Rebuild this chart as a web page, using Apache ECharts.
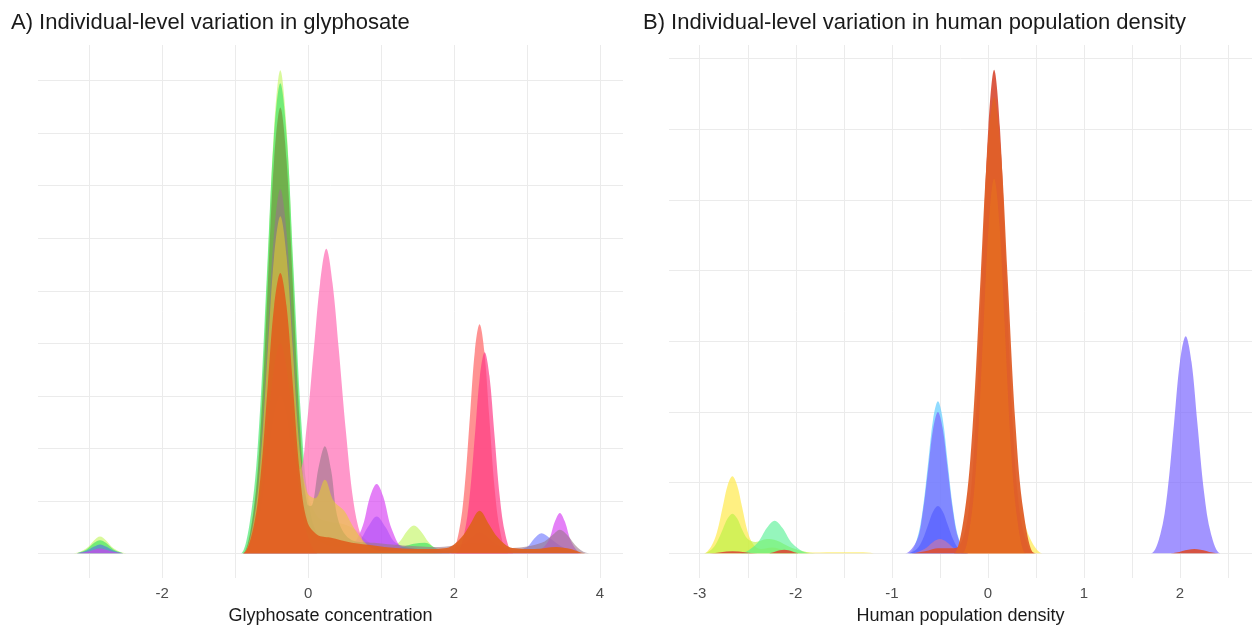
<!DOCTYPE html>
<html>
<head>
<meta charset="utf-8">
<script src="https://cdn.jsdelivr.net/npm/echarts@6/dist/echarts.min.js"></script>
<style>
    html, body { margin: 0; padding: 0; background: #fff; }
    #chart { width: 1254px; height: 630px; }
</style>
</head>
<body>
<div id="chart"></div>
<script>
    // ---- panel A: glyphosate, one density per individual ([x, density]) ----
    var glyTicks = [-2, 0, 2, 4];
    var glyGridX = [-3, -2, -1, 0, 1, 2, 3, 4];
    var glyGridY = [0, 1, 2, 3, 4, 5, 6, 7, 8, 9];

    var glyLime = [[-3.26,0],[-3.21,0],[-3.04,.09],[-2.93,.25],[-2.85,.32],[-2.77,.25],[-2.66,.09],[-2.49,0],[-2.44,0],[-0.95,0],[-0.9,0],[-0.75,.82],[-0.65,2.56],[-0.55,5.58],[-0.465,8.11],[-0.38,9.2],[-0.295,8.11],[-0.21,5.58],[-0.11,2.56],[-0.01,1.2],[0.13,.7],[0.3,.6],[0.5,.55],[0.65,.45],[0.8,.25],[0.95,.12],[1.1,.1],[1.24,.2],[1.36,.43],[1.45,.53],[1.54,.43],[1.66,.2],[1.84,0],[1.9,0]];
    var glyGreen = [[-3.26,0],[-3.21,0],[-3.04,.07],[-2.93,.2],[-2.85,.25],[-2.77,.2],[-2.66,.07],[-2.49,0],[-2.44,0],[-0.97,0],[-0.92,0],[-0.776,.8],[-0.668,2.49],[-0.56,5.43],[-0.47,7.89],[-0.38,8.95],[-0.29,7.89],[-0.2,5.43],[-0.092,2.49],[0.016,.9],[0.16,.3],[0.4,.2],[0.8,.12],[1.2,.1],[1.45,.18],[1.6,.2],[1.75,.1],[1.95,0],[2.0,0]];
    var glyOlive = [[-0.94,0],[-0.89,0],[-0.75,.76],[-0.65,2.36],[-0.55,5.15],[-0.465,7.49],[-0.38,8.49],[-0.295,7.49],[-0.21,5.15],[-0.11,2.36],[-0.01,.76],[0.13,0],[0.18,0]];
    var glyBlue = [[-3.26,0],[-3.21,0],[-3.04,.05],[-2.93,.13],[-2.85,.17],[-2.77,.13],[-2.66,.05],[-2.49,0],[-2.44,0],[-0.94,0],[-0.89,0],[-0.75,.36],[-0.65,1.11],[-0.55,2.43],[-0.465,3.53],[-0.38,4],[-0.295,3.53],[-0.21,2.43],[-0.11,1.11],[-0.01,.5],[0.2,.3],[0.5,.2],[0.7,.25],[0.82,.5],[0.94,.7],[1.06,.5],[1.2,.2],[1.5,.08],[1.9,.06],[2.15,.2],[2.35,.4],[2.55,.2],[2.8,.06],[3.0,.12],[3.1,.28],[3.2,.38],[3.3,.3],[3.45,.15],[3.6,.05],[3.75,0],[3.8,0]];
    var glyMagenta = [[-3.26,0],[-3.21,0],[-3.04,.025],[-2.93,.07],[-2.85,.09],[-2.77,.07],[-2.66,.025],[-2.49,0],[-2.44,0],[-0.94,0],[-0.89,0],[-0.75,.3],[-0.65,.97],[-0.55,2.1],[-0.465,3.1],[-0.38,3.5],[-0.295,3.1],[-0.21,2.1],[-0.11,.97],[-0.01,.4],[0.2,.2],[0.4,.12],[0.55,.12],[0.73,.45],[0.85,1.08],[0.94,1.32],[1.03,1.08],[1.15,.45],[1.33,.06],[1.6,.03],[3.0,.03],[3.15,.05],[3.29,.23],[3.38,.6],[3.45,.77],[3.52,.6],[3.61,.21],[3.75,0],[3.8,0]];
    var glyPink = [[-0.94,0],[-0.89,0],[-0.75,.27],[-0.65,.83],[-0.55,1.82],[-0.465,2.65],[-0.38,3],[-0.295,2.65],[-0.21,1.82],[-0.11,1.6],[-0.02,2.4],[0.08,3.9],[0.165,5.15],[0.25,5.8],[0.335,5.15],[0.42,3.9],[0.52,2.3],[0.62,1.0],[0.72,.35],[0.85,0],[0.9,0]];
    var glyMauve = [[-0.94,0],[-0.89,0],[-0.75,.62],[-0.65,1.93],[-0.55,4.21],[-0.465,6.12],[-0.38,6.94],[-0.295,6.12],[-0.21,4.21],[-0.11,1.97],[-0.01,.93],[0.04,.9],[0.146,1.65],[0.23,2.04],[0.314,1.6],[0.42,.6],[0.6,.25],[0.9,.2],[1.3,.15],[1.8,.12],[2.3,.2],[2.8,.1],[3.2,.2],[3.35,.35],[3.45,.45],[3.55,.35],[3.7,.1],[3.85,0],[3.9,0]];
    var glyYellow = [[-0.94,0],[-0.89,0],[-0.75,.57],[-0.65,1.78],[-0.55,3.9],[-0.465,5.66],[-0.38,6.42],[-0.295,5.66],[-0.21,3.9],[-0.11,1.9],[-0.01,1.15],[0.1,1.05],[0.23,1.4],[0.35,1.0],[0.5,.8],[0.6,.55],[0.72,.3],[0.85,.12],[1.0,.05],[1.4,.05],[1.8,0],[1.85,0]];
    var glySalmon = [[-0.94,0],[-0.89,0],[-0.75,.36],[-0.65,1.11],[-0.55,2.43],[-0.465,3.53],[-0.38,4],[-0.295,3.53],[-0.21,2.43],[-0.11,1.11],[-0.01,.36],[0.13,0],[0.18,0],[1.91,0],[1.96,0],[2.064,.39],[2.142,1.21],[2.22,2.65],[2.285,3.85],[2.35,4.36],[2.415,3.85],[2.48,2.65],[2.558,1.21],[2.636,.39],[2.74,0],[2.79,0]];
    var glyHotpink = [[1.98,0],[2.03,0],[2.134,.34],[2.212,1.06],[2.29,2.32],[2.355,3.38],[2.42,3.83],[2.485,3.38],[2.55,2.32],[2.628,1.06],[2.706,.34],[2.81,0],[2.86,0]];
    var glyOrange = [[-0.94,0],[-0.89,0],[-0.75,.48],[-0.65,1.48],[-0.55,3.24],[-0.465,4.71],[-0.38,5.34],[-0.295,4.71],[-0.21,3.24],[-0.11,1.48],[-0.01,.6],[0.13,.35],[0.3,.3],[0.6,.2],[0.9,.15],[1.2,.1],[1.6,.08],[1.9,.1],[2.1,.3],[2.22,.55],[2.35,.81],[2.48,.55],[2.6,.3],[2.8,.1],[3.1,.08],[3.4,.12],[3.6,.08],[3.8,0],[3.85,0]];

    // ---- panel B: human population density ----
    var popTicks = [-3, -2, -1, 0, 1, 2];
    var popGridX = [-3, -2.5, -2, -1.5, -1, -0.5, 0, 0.5, 1, 1.5, 2, 2.5];
    var popGridY = [0, 1, 2, 3, 4, 5, 6, 7];

    var popYellow = [[-3.0,0],[-2.96,0],[-2.88,.1],[-2.82,.3],[-2.76,.66],[-2.71,.96],[-2.66,1.09],[-2.61,.96],[-2.56,.66],[-2.5,.3],[-2.44,.12],[-2.36,.06],[-2.25,.08],[-2.1,.04],[-1.9,.01],[-1.6,.015],[-1.3,.015],[-1.15,0],[-1.1,0],[-0.38,0],[-0.33,0],[-0.21,.18],[-0.12,.56],[-0.03,1.21],[0.045,1.76],[0.12,2.0],[0.195,1.76],[0.27,1.21],[0.36,.56],[0.45,.18],[0.57,0],[0.62,0],[1.85,0],[1.9,0],[2.15,.05],[2.4,0],[2.45,0]];
    var popLime = [[-3.0,0],[-2.96,0],[-2.88,.05],[-2.82,.16],[-2.76,.34],[-2.71,.49],[-2.66,.56],[-2.61,.49],[-2.56,.34],[-2.5,.2],[-2.42,.16],[-2.3,.2],[-2.2,.18],[-2.05,.08],[-1.9,.02],[-1.8,0],[-1.75,0]];
    var popMint = [[-2.63,0],[-2.58,0],[-2.41,.13],[-2.3,.36],[-2.22,.46],[-2.14,.36],[-2.03,.13],[-1.86,0],[-1.81,0]];
    var popCyan = [[-0.86,0],[-0.82,0],[-0.74,.19],[-0.68,.6],[-0.62,1.3],[-0.57,1.9],[-0.52,2.15],[-0.47,1.9],[-0.42,1.3],[-0.36,.6],[-0.3,.19],[-0.22,0],[-0.18,0]];
    var popPurple = [[-0.9,0],[-0.86,0],[-0.74,.18],[-0.68,.56],[-0.62,1.21],[-0.57,1.76],[-0.52,2.0],[-0.47,1.76],[-0.42,1.21],[-0.36,.56],[-0.3,.18],[-0.2,0],[-0.16,0],[1.66,0],[1.7,0],[1.796,.27],[1.868,.85],[1.94,1.86],[2.0,2.71],[2.06,3.07],[2.12,2.71],[2.18,1.86],[2.252,.85],[2.324,.27],[2.42,0],[2.46,0]];
    var popBlue = [[-0.88,0],[-0.84,0],[-0.74,.06],[-0.68,.19],[-0.62,.41],[-0.57,.59],[-0.52,.67],[-0.47,.59],[-0.42,.41],[-0.36,.19],[-0.3,.06],[-0.2,0],[-0.16,0]];
    var popRose = [[-0.84,0],[-0.8,0],[-0.66,.06],[-0.57,.16],[-0.5,.2],[-0.43,.16],[-0.34,.06],[-0.2,0],[-0.16,0]];
    var popRed = [[-2.95,0],[-2.9,0],[-2.66,.03],[-2.4,0],[-2.3,0],[-2.12,.05],[-1.95,0],[-1.9,0],[-0.85,0],[-0.8,0],[-0.62,.04],[-0.52,.07],[-0.4,.07],[-0.3,.1],[-0.2,.61],[-0.127,1.9],[-0.055,4.15],[0.005,6.03],[0.065,6.84],[0.125,6.03],[0.185,4.15],[0.257,1.9],[0.329,.61],[0.425,.08],[0.5,0],[0.55,0],[1.85,0],[1.9,0],[2.15,.06],[2.4,0],[2.45,0]];
    var popOrange = [[-0.4,0],[-0.355,0],[-0.243,.57],[-0.159,1.79],[-0.075,3.92],[-0.005,5.69],[0.065,6.45],[0.135,5.69],[0.205,3.92],[0.289,1.79],[0.373,.57],[0.485,0],[0.53,0]];
    var popAmber = [[-0.31,0],[-0.265,0],[-0.177,.47],[-0.111,1.47],[-0.045,3.22],[0.01,4.67],[0.065,5.3],[0.12,4.67],[0.175,3.22],[0.241,1.47],[0.307,.47],[0.395,0],[0.44,0]];

    var font = "'Liberation Sans', Arial, sans-serif";

    function density(idx, data, color, opacity) {
        return {
            type: 'line', xAxisIndex: idx, yAxisIndex: idx, data: data,
            smooth: 0.35, showSymbol: false, silent: true, z: 2,
            lineStyle: {width: 0},
            areaStyle: {color: color, opacity: opacity}
        };
    }

    //网格线用 markLine 画，轴本身不画分隔线
    function gridLines(idx, xs, ys, x0) {
        var lines = [];
        for (var i = 0; i < xs.length; i++) lines.push({xAxis: xs[i]});
        for (var j = 0; j < ys.length; j++) lines.push({yAxis: ys[j]});
        return {
            type: 'line', xAxisIndex: idx, yAxisIndex: idx, data: [[x0, 0]], z: 1,
            showSymbol: false, silent: true, lineStyle: {width: 0},
            markLine: {
                z: 0, silent: true, animation: false, symbol: ['none', 'none'],
                label: {show: false},
                lineStyle: {color: '#ebebeb', width: 1, type: 'solid'},
                data: lines
            }
        };
    }

    function xAxis(idx, min, max, ticks, name) {
        return {
            gridIndex: idx, type: 'value', min: min, max: max,
            axisLine: {show: false}, axisTick: {show: false}, splitLine: {show: false},
            axisLabel: {customValues: ticks, color: '#4d4d4d', fontSize: 15, margin: 8, fontFamily: font},
            name: name, nameLocation: 'middle', nameGap: 29,
            nameTextStyle: {fontSize: 18, color: '#1a1a1a', fontFamily: font}
        };
    }

    var chart = echarts.init(document.getElementById('chart'));
    chart.setOption({
        animation: false,
        backgroundColor: '#ffffff',
        title: [
            {text: 'A) Individual-level variation in glyphosate', left: 11, top: 12, padding: 0,
                textStyle: {fontSize: 22, fontWeight: 'normal', color: '#1a1a1a', fontFamily: font}},
            {text: 'B) Individual-level variation in human population density', left: 643, top: 12, padding: 0,
                textStyle: {fontSize: 22, fontWeight: 'normal', color: '#1a1a1a', fontFamily: font}}
        ],
        grid: [
            {left: 38, top: 45, width: 585, height: 538},
            {left: 669, top: 45, width: 583, height: 538}
        ],
        xAxis: [
            xAxis(0, -3.7, 4.315, glyTicks, 'Glyphosate concentration'),
            xAxis(1, -3.32, 2.75, popTicks, 'Human population density')
        ],
        yAxis: [
            {gridIndex: 0, type: 'value', min: -0.47, max: 9.68, show: false},
            {gridIndex: 1, type: 'value', min: -0.35, max: 7.19, show: false}
        ],
        series: [
            gridLines(0, glyGridX, glyGridY, -3.7),
            density(0, glyLime, '#bff55a', 0.6),
            density(0, glyGreen, '#2fe35e', 0.6),
            density(0, glyOlive, '#6f7f2c', 0.55),
            density(0, glyBlue, '#4a55ff', 0.5),
            density(0, glyMagenta, '#d53cf2', 0.65),
            density(0, glyPink, '#ff7dbd', 0.8),
            density(0, glyMauve, '#9a7788', 0.6),
            density(0, glyYellow, '#e6d22a', 0.55),
            density(0, glySalmon, '#ff6e6e', 0.75),
            density(0, glyHotpink, '#ff3b86', 0.7),
            density(0, glyOrange, '#e0611f', 0.93),

            gridLines(1, popGridX, popGridY, -3.32),
            density(1, popYellow, '#ffe94d', 0.7),
            density(1, popLime, '#b6f23e', 0.6),
            density(1, popMint, '#4ef08f', 0.6),
            density(1, popCyan, '#55c8ff', 0.65),
            density(1, popPurple, '#7a66ff', 0.7),
            density(1, popBlue, '#3c46ff', 0.45),
            density(1, popRose, '#d37aa0', 0.6),
            density(1, popRed, '#d9503a', 0.95),
            density(1, popOrange, '#e0602a', 0.96),
            density(1, popAmber, '#f08a10', 0.28)
        ]
    });
</script>
</body>
</html>
